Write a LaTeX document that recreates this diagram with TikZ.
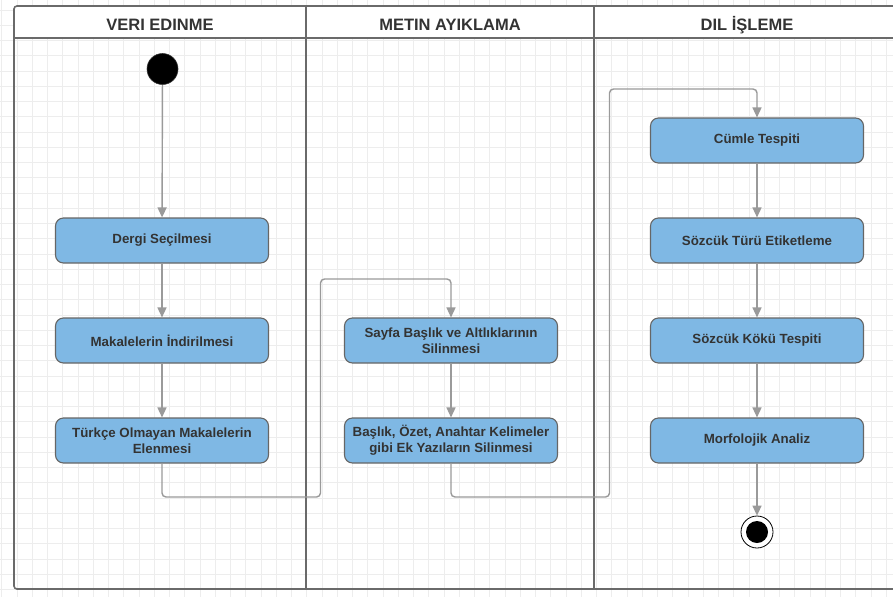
\documentclass[tikz,border=0pt]{standalone}
\usepackage{fontspec}
\setmainfont{Liberation Sans}
\usetikzlibrary{arrows.meta}
\definecolor{boxfill}{HTML}{7FB8E4}
\definecolor{boxline}{HTML}{666666}
\definecolor{txt}{HTML}{333333}
\definecolor{conncol}{HTML}{9A9A9A}
\definecolor{gridcol}{HTML}{EDEDED}
\definecolor{framecol}{HTML}{6A6A6A}
\tikzset{
  actbox/.style={rectangle, rounded corners=8pt, fill=boxfill, draw=boxline, line width=1.1pt,
    minimum width=213pt, minimum height=45pt, inner sep=2pt, align=center, text=txt,
    font=\bfseries\fontsize{13.3}{15.6}\selectfont},
  lanetitle/.style={text=txt, font=\bfseries\fontsize{16.5}{19}\selectfont},
  conn/.style={draw=conncol, line width=1.4pt, rounded corners=4pt,
    -{Triangle[width=9pt,length=10pt]}},
  startnode/.style={circle, fill=black, draw=black!80, line width=0.6pt, minimum size=31pt, inner sep=0pt},
  endouter/.style={circle, fill=white, draw=black, line width=0.8pt, minimum size=32pt, inner sep=0pt},
  endinner/.style={circle, fill=black, minimum size=22pt, inner sep=0pt},
}
\begin{document}
\begin{tikzpicture}[x=1pt,y=-1pt]
\useasboundingbox (0,0) rectangle (893,597);
\fill[white] (0,0) rectangle (893,597);
% grid
\begin{scope}
\clip (0,0) rectangle (893,597);
\foreach \i in {0,...,59} {\draw[gridcol, line width=0.7pt] ({1.8+15.25*\i},0) -- ({1.8+15.25*\i},597);}
\foreach \j in {0,...,39} {\draw[gridcol, line width=0.7pt] (0,{10+15.25*\j}) -- (893,{10+15.25*\j});}
\end{scope}
% swimlanes
\fill[white] (14,6) rectangle (905,38);
\draw[framecol, line width=1.6pt, rounded corners=3pt] (14,6) rectangle (905,589);
\draw[framecol, line width=1.6pt] (14,38) -- (905,38);
\draw[framecol, line width=1.6pt] (306,6) -- (306,589);
\draw[framecol, line width=1.6pt] (594,6) -- (594,589);
\node[lanetitle] (t1) at (160,25) {VERI EDINME};
\node[lanetitle] (t2) at (450,25) {METIN AYIKLAMA};
\node[lanetitle] (t3) at (747,25) {DIL İŞLEME};
% nodes
\node[startnode] (start) at (162.5,69) {};
\node[actbox] (dergi) at (162,240.5) {Dergi Seçilmesi};
\node[actbox] (makale) at (162,340.5) {Makalelerin İndirilmesi};
\node[actbox] (turkce) at (162,440.5) {Türkçe Olmayan Makalelerin\\Elenmesi};
\node[actbox] (sayfa) at (451,340.5) {Sayfa Başlık ve Altlıklarının\\Silinmesi};
\node[actbox] (baslik) at (451,440.5) {Başlık, Özet, Anahtar Kelimeler\\gibi Ek Yazıların Silinmesi};
\node[actbox] (cumle) at (757,140.5) {Cümle Tespiti};
\node[actbox] (sozturu) at (757,240.5) {Sözcük Türü Etiketleme};
\node[actbox] (sozkok) at (757,340.5) {Sözcük Kökü Tespiti};
\node[actbox] (morf) at (757,440.5) {Morfolojik Analiz};
\node[endouter] (endo) at (757,532) {};
\node[endinner] (end) at (757,532) {};
% bends
\coordinate (a1) at (162,497);
\coordinate (a2) at (320.5,497);
\coordinate (a3) at (320.5,279);
\coordinate (a4) at (451,279);
\coordinate (b1) at (451,497);
\coordinate (b2) at (609.5,497);
\coordinate (b3) at (609.5,89);
\coordinate (b4) at (757,89);
% connectors
\draw[conn] (start) -- (dergi);
\draw[conn] (dergi) -- (makale);
\draw[conn] (makale) -- (turkce);
\draw[conn] (turkce.south) -- (a1) -- (a2) -- (a3) -- (a4) -- (sayfa.north);
\draw[conn] (sayfa) -- (baslik);
\draw[conn] (baslik.south) -- (b1) -- (b2) -- (b3) -- (b4) -- (cumle.north);
\draw[conn] (cumle) -- (sozturu);
\draw[conn] (sozturu) -- (sozkok);
\draw[conn] (sozkok) -- (morf);
\draw[conn] (morf) -- (endo);
\end{tikzpicture}
\end{document}
